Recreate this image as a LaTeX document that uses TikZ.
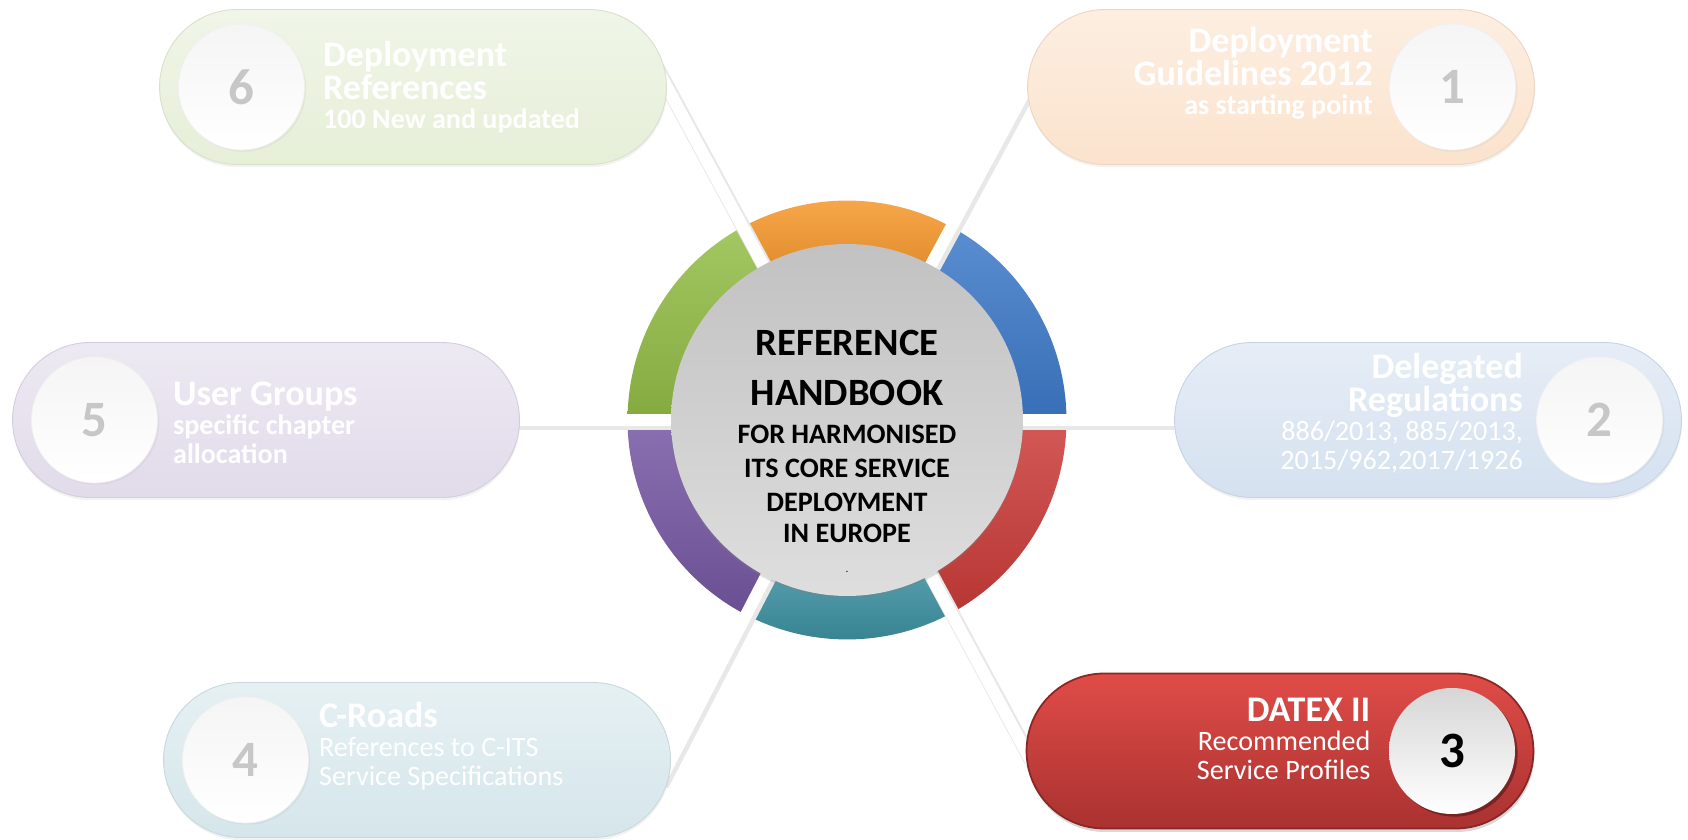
\documentclass[tikz,border=0pt]{standalone}
\usepackage{fontspec}
\setmainfont{Carlito}
\usepackage{xcolor}
\usepackage{tikz}
\usetikzlibrary{shapes,shadows,positioning,backgrounds,calc}

\definecolor{ringblue}{HTML}{3D7AC9}
\definecolor{ringorange}{HTML}{F89A2E}
\definecolor{ringgreen}{HTML}{93BD46}
\definecolor{ringpurple}{HTML}{7657A3}
\definecolor{ringteal}{HTML}{3A8FA0}
\definecolor{ringred}{HTML}{CB3C39}
\definecolor{pgreen}{HTML}{E6EFD8}
\definecolor{ppeach}{HTML}{FBE3CD}
\definecolor{plilac}{HTML}{E1DBEA}
\definecolor{pblue}{HTML}{D5E1F0}
\definecolor{pteal}{HTML}{D5E6EB}
\definecolor{redtop}{HTML}{E04C48}
\definecolor{redbot}{HTML}{A93230}
\definecolor{redrim}{HTML}{8A2725}

\newcommand\pillsub{\fontsize{16}{16.6}\selectfont}
\newcommand\hubbig{\fontsize{22}{19.4}\selectfont}

\begin{document}
\begin{tikzpicture}[
      x=0.02cm, y=0.02cm,
      pillbase/.style = {rounded rectangle, minimum width=10.14cm, minimum height=3.1cm, inner sep=0pt},
      pill/.style = {pillbase, top color=#1!60!white, bottom color=#1, draw=#1!94!black, line width=0.5pt,
        drop shadow={opacity=0.1, shadow xshift=0.3pt, shadow yshift=-1.5pt}},
      hotpill/.style = {pillbase, top color=redtop, bottom color=redbot, draw=redrim, line width=1pt,
        drop shadow={opacity=0.3, shadow xshift=0.5pt, shadow yshift=-2pt}},
      disk/.style = {circle, minimum size=2.52cm, inner sep=0pt, top color=black!4, bottom color=white,
        draw=black!6, text=black!22, font=\fontsize{29}{29}\selectfont\bfseries,
        drop shadow={opacity=0.08, shadow xshift=1pt, shadow yshift=-1pt}},
      hotdisk/.style = {circle, minimum size=2.52cm, inner sep=0pt, top color=black!16, bottom color=white,
        text=black, font=\fontsize{29}{29}\selectfont\bfseries,
        drop shadow={opacity=0.6, fill=redrim!60!black, shadow xshift=1.5pt, shadow yshift=-1.5pt}},
      pilltext/.style = {inner sep=0pt, text=white, font=\fontsize{20.5}{16.6}\selectfont\bfseries},
      hubdisk/.style = {circle, minimum size=7.04cm, inner sep=0pt, top color=black!24, bottom color=black!13,
        drop shadow={opacity=0.25, shadow xshift=0pt, shadow yshift=-1.5pt}},
      hubtext/.style = {inner sep=0pt, align=center, font=\fontsize{16}{19.4}\selectfont\bfseries},
      cutline/.style = {white, line width=0.24cm, shorten >=-0.5cm},
      cutshade/.style = {black!9, line width=0.3cm, shorten >=-0.5cm, transform canvas={shift={(1.2pt,-1.5pt)}}}
    ]
    \useasboundingbox (0,0) rectangle (1688,839);
    \node[hubdisk] (hub) at (847,419) {};
    \node[hubtext, yshift=-0.63cm] (title) at (hub) {{\hubbig REFERENCE}\\[9.1pt]{\hubbig HANDBOOK}\\[2.2pt]
      FOR HARMONISED\\ITS CORE SERVICE\\DEPLOYMENT\\[-1.8pt]IN EUROPE\\[-2.3pt]{\fontsize{5}{5}\selectfont .}};

    \node[pill=pgreen] (p6) at (413,752) {};
    \node[pill=ppeach] (p1) at (1281,752) {};
    \node[pill=plilac] (p5) at (266,419) {};
    \node[pill=pblue] (p2) at (1428,419) {};
    \node[pill=pteal] (p4) at (417,79) {};
    \node[hotpill] (p3) at (1280,88) {};

    \node[disk, right=0.38cm of p6.west] (c6) {6};
    \node[disk, left=0.38cm of p1.east] (c1) {1};
    \node[disk, right=0.38cm of p5.west] (c5) {5};
    \node[disk, left=0.38cm of p2.east] (c2) {2};
    \node[disk, right=0.38cm of p4.west] (c4) {4};
    \node[hotdisk, left=0.38cm of p3.east] (c3) {3};

    \node[pilltext, right=0.36cm of c6, align=left] (t6) {Deployment\\References\\{\pillsub 100 New and updated}};
    \node[pilltext, left=0.32cm of c1, align=right, yshift=0.27cm] (t1) {Deployment\\Guidelines 2012\\{\pillsub as starting point}};
    \node[pilltext, right=0.3cm of c5, align=left, yshift=-0.06cm] (t5) {User Groups\\{\pillsub specific chapter}\\{\pillsub allocation}};
    \node[pilltext, left=0.26cm of c2, align=right, yshift=0.14cm] (t2) {Delegated\\Regulations\\{\pillsub\mdseries 886/2013, 885/2013,}\\{\pillsub\mdseries 2015/962,2017/1926}};
    \node[pilltext, right=0.2cm of c4, align=left, yshift=0.28cm] (t4) {C-Roads\\{\pillsub\mdseries References to C-ITS}\\{\pillsub\mdseries Service Specifications}};
    \node[pilltext, left=0.36cm of c3, align=right, yshift=0.24cm] (t3) {DATEX II\\{\pillsub\mdseries Recommended}\\{\pillsub\mdseries Service Profiles}};

    \begin{pgfonlayer}{background}
      \fill[white] (0,0) rectangle (1688,839);
      \foreach \a/\b/\col in {0/61.5/ringblue, 61.5/118.5/ringorange, 118.5/180/ringgreen,
          180/242.6/ringpurple, 242.6/298.5/ringteal, 298.5/360/ringred}
        \path[top color=\col!85!white, bottom color=\col!90!black]
          ($(hub.center)+(\a:4.39cm)$) arc[start angle=\a, end angle=\b, radius=4.39cm]
          -- ($(hub.center)+(\b:3.3cm)$) arc[start angle=\b, end angle=\a, radius=3.3cm] -- cycle;
      \foreach \p in {p1.west, p6.east, p5.east, p4.east, p3.west, p2.west} {
        \draw[cutshade] (hub.center) -- (\p);
        \draw[cutline] (hub.center) -- (\p);
      }
    \end{pgfonlayer}
  \end{tikzpicture}
\end{document}
